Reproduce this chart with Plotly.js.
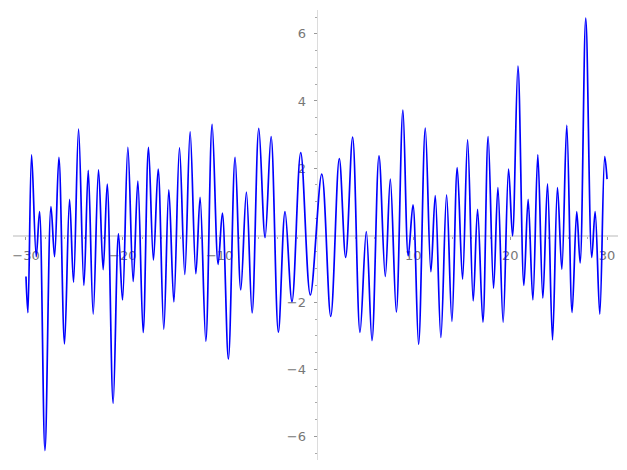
<!DOCTYPE html>
<html>
<head>
<meta charset="utf-8">
<script src="https://cdn.plot.ly/plotly-3.0.1.min.js"></script>
<style>html,body{margin:0;padding:0;background:#fff;}#chart{width:627px;height:470px;}</style>
</head>
<body>
<div id="chart"></div>
<script>
// Curve: x positions and values of the turning points
const curveX = [
  -30, -29.8, -29.42, -28.94, -28.6, -28.04, -27.42, -27.05, -26.6, -26.02,
  -25.5, -25.09, -24.57, -24.02, -23.57, -23.06, -22.51, -22.03, -21.61, -21.0,
  -20.45, -20.03, -19.48, -18.93, -18.45, -17.9, -17.35, -16.84, -16.35, -15.77,
  -15.25, -14.73, -14.15, -13.6, -13.05, -12.46, -12.02, -11.43, -10.78, -10.16,
  -9.72, -9.10, -8.41, -7.82, -7.24, -6.65, -5.96, -5.31, -4.69, -3.94,
  -3.25, -2.53, -1.63, -0.64, 0.54, 1.47, 2.35, 3.01, 3.73, 4.49,
  5.14, 5.73, 6.45, 7.10, 7.62, 8.24, 8.92, 9.47, 9.96, 10.54,
  11.23, 11.81, 12.26, 12.84, 13.43, 13.98, 14.53, 15.08, 15.6, 16.18,
  16.63, 17.18, 17.72, 18.28, 18.73, 19.27, 19.83, 20.24, 20.8, 21.41,
  21.85, 22.34, 22.85, 23.37, 23.85, 24.37, 24.88, 25.33, 25.84, 26.39,
  26.87, 27.22, 27.8, 28.42, 28.77, 29.25, 29.76, 30
];
const curveY = [
  -1.23, -2.31, 2.39, -0.64, 0.70, -6.42, 0.85, -0.64, 2.32, -3.24,
  1.07, -1.40, 3.16, -1.50, 1.93, -2.35, 1.95, -1.03, 1.52, -5.01,
  0.04, -1.93, 2.62, -1.38, 1.61, -2.90, 2.62, -0.74, 1.97, -2.80,
  1.35, -1.99, 2.60, -1.17, 3.08, -1.15, 1.13, -3.16, 3.30, -0.87,
  0.66, -3.69, 2.32, -1.63, 1.28, -2.32, 3.18, -0.07, 2.94, -2.89,
  0.70, -1.98, 2.46, -1.78, 1.82, -2.42, 2.28, -0.66, 2.92, -2.90,
  0.11, -3.14, 2.36, -1.23, 1.67, -2.29, 3.73, -0.62, 0.90, -3.25,
  3.19, -1.09, 1.18, -3.05, 1.20, -2.57, 2.01, -1.31, 2.84, -1.96,
  0.77, -2.59, 2.94, -1.58, 1.42, -2.59, 1.97, -0.02, 5.04, -1.50,
  1.07, -1.93, 2.39, -1.88, 1.53, -3.12, 1.42, -1.01, 3.27, -2.30,
  0.70, -0.83, 6.47, -0.66, 0.70, -2.35, 2.34, 1.67
];
const xTickVals = [-30, -20, -10, 10, 20, 30];
const xTickText = ["\u221230", "\u221220", "\u221210", "10", "20", "30"];
const yTickVals = [-6, -4, -2, 2, 4, 6];
const yTickText = ["\u22126", "\u22124", "\u22122", "2", "4", "6"];

const xRange = [-31.34, 31.13];
const yRange = [-6.70, 6.71];
const xPos = (0 - xRange[0]) / (xRange[1] - xRange[0]);
const yPos = (0 - yRange[0]) / (yRange[1] - yRange[0]);

const axisCommon = {
  showgrid: false,
  zeroline: false,
  showline: true,
  linecolor: '#dcdcdc',
  linewidth: 1.5,
  ticks: 'outside',
  ticklen: 3,
  tickwidth: 1,
  tickcolor: '#999',
  tickfont: {family: 'DejaVu Sans', size: 13, color: '#777'},
  anchor: 'free',
  layer: 'below traces',
  fixedrange: true
};

const layout = {
  width: 627, height: 470,
  margin: {l: 12.7, r: 8.7, t: 10, b: 10},
  paper_bgcolor: '#fff', plot_bgcolor: '#fff',
  showlegend: false,
  xaxis: Object.assign({}, axisCommon, {
    range: xRange, position: yPos,
    tickmode: 'array', tickvals: xTickVals, ticktext: xTickText,
    ticklabelstandoff: 5,
    minor: {dtick: 2, ticks: 'outside', ticklen: 2, tickcolor: '#aaa', showgrid: false}
  }),
  yaxis: Object.assign({}, axisCommon, {
    range: yRange, position: xPos,
    tickmode: 'array', tickvals: yTickVals, ticktext: yTickText,
    ticklabelstandoff: 5,
    minor: {dtick: 0.5, ticks: 'outside', ticklen: 2, tickcolor: '#aaa', showgrid: false}
  })
};

Plotly.newPlot('chart', [{
  x: curveX, y: curveY, type: 'scatter', mode: 'lines',
  line: {color: '#0000ff', width: 1.7, shape: 'spline', smoothing: 1},
  hoverinfo: 'skip'
}], layout, {staticPlot: true, displayModeBar: false});
</script>
</body>
</html>
